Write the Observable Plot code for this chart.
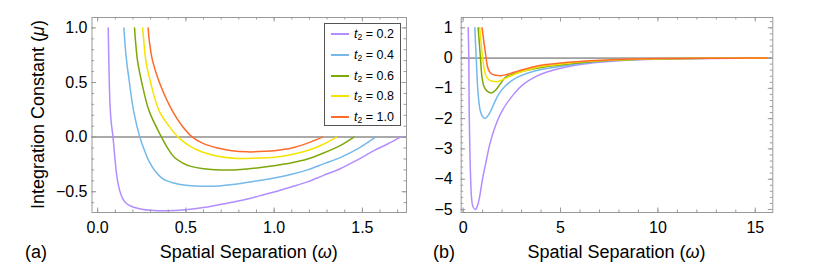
<!DOCTYPE html>
<html><head><meta charset="utf-8">
<script src="https://cdn.jsdelivr.net/npm/d3@7"></script>
<script src="https://cdn.jsdelivr.net/npm/@observablehq/plot@0.6"></script>
<style>
body{margin:0;background:#fff;font-family:"Liberation Sans",Arial,sans-serif;}
#wrap{position:relative;width:830px;height:264px;overflow:hidden;}
.panel{position:absolute;top:0;}
#legend{position:absolute;left:324px;top:23px;width:77px;height:103px;border:1px solid #555;background:#fff;box-sizing:border-box;font-family:"Liberation Sans",Arial,sans-serif;font-size:12.5px;color:#000;}
.item{position:absolute;left:6px;height:16px;display:flex;align-items:center;white-space:nowrap;}
.sw{display:block;width:18px;height:2px;margin-right:5px;}
.item sub{font-size:8.5px;vertical-align:-2px;line-height:0;}
</style></head><body><div id="wrap"></div>
<script>
// ---------- data ----------
const tLabels = ["0.2", "0.4", "0.6", "0.8", "1.0"];
const colors = ["#B28DFF", "#74B9EA", "#7DA80A", "#F5E400", "#FF6A2B"];

// panel (a)
const a02x = [0.060,0.063,0.066,0.070,0.076,0.087,0.097,0.109,0.125,0.141,0.165,0.20,0.25,0.30,0.39,0.50,0.60,0.70,0.811,0.90,1.00,1.10,1.189,1.28,1.377,1.47,1.566,1.64,1.716];
const a02y = [1.0,0.72,0.50,0.30,0.15,0,-0.18,-0.36,-0.49,-0.56,-0.61,-0.64,-0.66,-0.67,-0.675,-0.665,-0.645,-0.615,-0.58,-0.545,-0.503,-0.455,-0.41,-0.35,-0.287,-0.21,-0.123,-0.065,0];
const a04x = [0.149,0.155,0.164,0.180,0.204,0.239,0.265,0.292,0.330,0.368,0.43,0.50,0.603,0.70,0.811,0.924,1.00,1.10,1.189,1.28,1.377,1.48,1.575];
const a04y = [1.0,0.85,0.70,0.50,0.238,0,-0.12,-0.225,-0.32,-0.38,-0.42,-0.44,-0.45,-0.445,-0.425,-0.395,-0.375,-0.34,-0.30,-0.245,-0.185,-0.10,0];
const a06x = [0.209,0.215,0.226,0.250,0.292,0.362,0.40,0.434,0.48,0.528,0.60,0.736,0.811,0.924,1.00,1.10,1.189,1.28,1.377,1.452];
const a06y = [1.0,0.87,0.70,0.50,0.238,0,-0.11,-0.185,-0.235,-0.268,-0.29,-0.302,-0.297,-0.278,-0.262,-0.235,-0.200,-0.145,-0.075,0];
const a08x = [0.255,0.262,0.273,0.30,0.349,0.40,0.456,0.52,0.585,0.68,0.792,0.90,1.00,1.10,1.189,1.27,1.354];
const a08y = [1.0,0.87,0.70,0.50,0.238,0.11,0,-0.08,-0.132,-0.175,-0.195,-0.192,-0.185,-0.16,-0.123,-0.072,0];
const a10x = [0.286,0.293,0.311,0.35,0.424,0.48,0.537,0.60,0.679,0.76,0.849,0.95,1.00,1.10,1.189,1.273];
const a10y = [1.0,0.88,0.70,0.50,0.238,0.10,0,-0.06,-0.10,-0.125,-0.135,-0.13,-0.124,-0.10,-0.055,0];

// panel (b)
const b02x = [0.26,0.29,0.31,0.34,0.38,0.43,0.50,0.63,0.75,0.84,1.01,1.20,1.37,1.65,2.0,2.6,3.1,3.7,4.3,5.25,6,7,8,9,10,12,14,15.6];
const b02y = [1,0,-1.74,-2.84,-3.9,-4.6,-4.9,-5.0,-4.85,-4.6,-3.94,-3.35,-2.84,-2.25,-1.74,-1.19,-0.86,-0.62,-0.46,-0.30,-0.21,-0.135,-0.085,-0.055,-0.035,-0.014,-0.005,0];
const b04x = [0.60,0.67,0.77,0.88,1.0,1.14,1.30,1.45,1.60,1.83,2.2,2.77,3.3,4,5.25,6,7,8,9,10,12,14,15.6];
const b04y = [1,0,-1.19,-1.74,-1.94,-1.99,-1.88,-1.70,-1.48,-1.19,-0.90,-0.64,-0.50,-0.38,-0.25,-0.18,-0.115,-0.072,-0.046,-0.029,-0.011,-0.004,0];
const b06x = [0.77,0.89,0.97,1.08,1.25,1.45,1.65,1.90,2.17,2.6,3.2,4,5.25,6,7,8,9,10,12,14,15.6];
const b06y = [1,0,-0.64,-0.95,-1.10,-1.15,-1.07,-0.86,-0.64,-0.52,-0.41,-0.31,-0.21,-0.155,-0.10,-0.065,-0.04,-0.025,-0.01,-0.004,0];
const b08x = [0.85,1.0,1.08,1.18,1.35,1.74,2.0,2.4,3.0,4,5.25,6,7,8,9,10,12,14,15.6];
const b08y = [1,0,-0.35,-0.60,-0.73,-0.78,-0.72,-0.60,-0.45,-0.28,-0.18,-0.13,-0.09,-0.055,-0.035,-0.022,-0.009,-0.003,0];
const b10x = [0.97,1.18,1.25,1.35,1.50,1.91,2.2,2.6,3.2,4,5.25,6,7,8,9,10,12,14,15.6];
const b10y = [1,0,-0.28,-0.45,-0.54,-0.58,-0.55,-0.47,-0.36,-0.24,-0.15,-0.11,-0.075,-0.045,-0.03,-0.018,-0.007,-0.002,0];

// ticks
const aXMajor = [0, 0.5, 1.0, 1.5];
const aXMinor = d3.range(0, 1.75, 0.1).map(v => +v.toFixed(1));
const aYMajor = [-0.5, 0, 0.5, 1.0];
const aYMinor = d3.range(-0.6, 1.1, 0.1).map(v => +v.toFixed(1));
const bXMajor = [0, 5, 10, 15];
const bXMinor = d3.range(0, 16, 1);
const bYMajor = [-5, -4, -3, -2, -1, 0, 1];
const bYMinor = d3.range(-5, 1.3, 0.2).map(v => +v.toFixed(1));

// texts
const xLabelParts = [["Spatial Separation (", false], ["ω", true], [")", false]];
const yLabelParts = [["Integration Constant (", false], ["μ", true], [")", false]];
const panelTags = ["(a)", "(b)"];

// ---------- helpers ----------
function rows(xs, ys, t) { return xs.map((x, i) => ({x, y: ys[i], t})); }

const seriesA = [
  ...rows(a02x, a02y, "0.2"), ...rows(a04x, a04y, "0.4"), ...rows(a06x, a06y, "0.6"),
  ...rows(a08x, a08y, "0.8"), ...rows(a10x, a10y, "1.0")];
const seriesB = [
  ...rows(b02x, b02y, "0.2"), ...rows(b04x, b04y, "0.4"), ...rows(b06x, b06y, "0.6"),
  ...rows(b08x, b08y, "0.8"), ...rows(b10x, b10y, "1.0")];

const FONT = '"Liberation Sans", Arial, sans-serif';
const FRAME = "#9a9a9a";
const H = 264, MT = 17, MB = 52;
const IH = H - MT - MB;

function panel(o) {
  const IW = o.width - o.ml - o.mr;
  const major = 4.5, minor = 2.5;
  const svg = Plot.plot({
    width: o.width, height: H,
    marginLeft: o.ml, marginRight: o.mr, marginTop: MT, marginBottom: MB,
    style: {fontFamily: FONT, fontSize: "16px", color: "#000", background: "#fff", overflow: "visible"},
    x: {domain: o.xDomain},
    y: {domain: o.yDomain},
    color: {domain: tLabels, range: colors},
    marks: [
      Plot.ruleY([0], {stroke: o.zeroStroke, strokeWidth: o.zeroWidth}),
      Plot.line(o.data, {x: "x", y: "y", z: "t", stroke: "t", strokeWidth: 1.5, curve: "catmull-rom"}),
      Plot.frame({stroke: FRAME, strokeWidth: 1}),
      // inward frame ticks
      Plot.ruleX(o.xMinor, {stroke: FRAME, insetTop: IH - minor}),
      Plot.ruleX(o.xMinor, {stroke: FRAME, insetBottom: IH - minor}),
      Plot.ruleX(o.xMajor, {stroke: FRAME, insetTop: IH - major}),
      Plot.ruleX(o.xMajor, {stroke: FRAME, insetBottom: IH - major}),
      Plot.ruleY(o.yMinor, {stroke: FRAME, insetRight: IW - minor}),
      Plot.ruleY(o.yMinor, {stroke: FRAME, insetLeft: IW - minor}),
      Plot.ruleY(o.yMajor, {stroke: FRAME, insetRight: IW - major}),
      Plot.ruleY(o.yMajor, {stroke: FRAME, insetLeft: IW - major}),
      Plot.axisX(o.xMajor, {tickSize: 0, tickPadding: 9.5, tickFormat: o.xFmt, label: null, fontSize: 16}),
      Plot.axisY(o.yMajor, {tickSize: 0, tickPadding: o.yPad, tickFormat: o.yFmt, label: null, fontSize: 16})
    ]
  });
  const s = d3.select(svg);
  function addText(x, y, rot, anchor, parts) {
    const t = s.append("text")
      .attr("transform", `translate(${x},${y})` + (rot ? ` rotate(${rot})` : ""))
      .attr("text-anchor", anchor)
      .style("font-size", "18px").style("font-family", FONT).attr("fill", "#000");
    for (const [str, it] of parts) t.append("tspan").text(str).attr("font-style", it ? "italic" : null);
  }
  addText(o.ml + IW / 2, 258, 0, "middle", xLabelParts);
  addText(o.tagX, 258, 0, "start", [[o.tag, false]]);
  if (o.yLabel) addText(43.5, MT + IH / 2, -90, "middle", yLabelParts);
  return svg;
}

const wrap = document.getElementById("wrap");

const left = panel({
  width: 420, ml: 91.5, mr: 14, data: seriesA,
  xDomain: [-0.032, 1.75], yDomain: [-0.69, 1.095],
  xMajor: aXMajor, xMinor: aXMinor, yMajor: aYMajor, yMinor: aYMinor,
  xFmt: d3.format(".1f"), yFmt: d3.format(".1f"), yPad: 4.5,
  zeroStroke: "#aaaaaa", zeroWidth: 2, tag: panelTags[0], tagX: 25, yLabel: true
});
left.classList.add("panel"); left.style.left = "0px";
wrap.appendChild(left);

const right = panel({
  width: 410, ml: 40.7, mr: 57.7, data: seriesB,
  xDomain: [-0.1, 15.9], yDomain: [-5.1, 1.34],
  xMajor: bXMajor, xMinor: bXMinor, yMajor: bYMajor, yMinor: bYMinor,
  xFmt: d3.format("d"), yFmt: d3.format("d"), yPad: 8.5,
  zeroStroke: "#555555", zeroWidth: 1, tag: panelTags[1], tagX: 13, yLabel: false
});
right.classList.add("panel"); right.style.left = "420px";
wrap.appendChild(right);

// legend
const legend = document.createElement("div");
legend.id = "legend";
tLabels.forEach((t, i) => {
  const it = document.createElement("div");
  it.className = "item";
  it.style.top = (2 + i * 20.8) + "px";
  const sw = document.createElement("span");
  sw.className = "sw"; sw.style.background = colors[i];
  it.appendChild(sw);
  const lab = document.createElement("span");
  lab.innerHTML = `<i>t</i><sub>2</sub> = ${t}`;
  it.appendChild(lab);
  legend.appendChild(it);
});
wrap.appendChild(legend);
</script>
</body></html>
